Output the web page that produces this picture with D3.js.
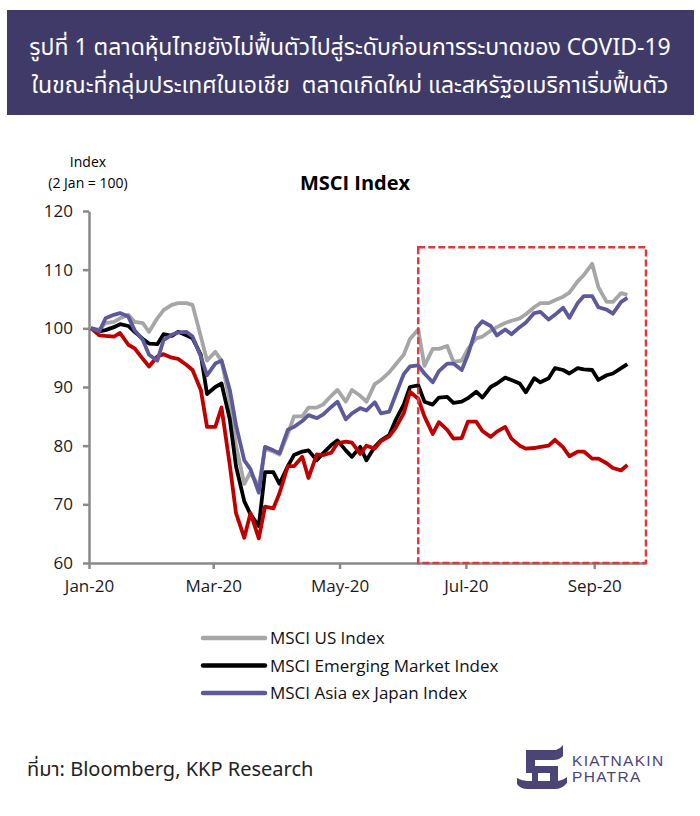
<!DOCTYPE html>
<html>
<head>
<meta charset="utf-8">
<script src="https://cdn.jsdelivr.net/npm/d3@7"></script>
<style>
  body { margin: 0; background: #fff; }
  .thai { font-family: "Noto Sans Thai", "Noto Sans Thai UI", "Loma", "Garuda", "Noto Sans", sans-serif; white-space: pre; }
  .chart-text { font-family: "Open Sans", "Liberation Sans", sans-serif; }
</style>
</head>
<body>
<div id="chart"></div>
<script>
// data (index, 2 Jan = 100)
var dates = [
  "2020-01-02","2020-01-06","2020-01-09","2020-01-13","2020-01-16","2020-01-20","2020-01-23","2020-01-27","2020-01-30",
  "2020-02-03","2020-02-06","2020-02-10","2020-02-13","2020-02-17","2020-02-20","2020-02-24","2020-02-27",
  "2020-03-02","2020-03-05","2020-03-09","2020-03-12","2020-03-16","2020-03-19","2020-03-23","2020-03-26","2020-03-30",
  "2020-04-02","2020-04-06","2020-04-09","2020-04-13","2020-04-16","2020-04-20","2020-04-23","2020-04-27","2020-04-30",
  "2020-05-04","2020-05-07","2020-05-11","2020-05-14","2020-05-18","2020-05-21","2020-05-25","2020-05-28",
  "2020-06-01","2020-06-04","2020-06-08","2020-06-11","2020-06-15","2020-06-18","2020-06-22","2020-06-25","2020-06-29",
  "2020-07-02","2020-07-06","2020-07-09","2020-07-13","2020-07-16","2020-07-20","2020-07-23","2020-07-27","2020-07-30",
  "2020-08-03","2020-08-06","2020-08-10","2020-08-13","2020-08-17","2020-08-20","2020-08-24","2020-08-27","2020-08-31",
  "2020-09-03","2020-09-07","2020-09-10","2020-09-14","2020-09-17"
];

var usIndex = [
  100, 99.8, 100.9, 101.1, 101.7, 102.3, 101.1, 100.9, 99.4,
  101.7, 103.1, 104.0, 104.3, 104.3, 104.0, 98.6, 94.5,
  96.0, 94.5, 87.5, 80.0, 73.5, 75.5, 73.0, 79.5, 79.0,
  78.5, 82.0, 85.0, 85.0, 86.5, 86.5, 87.0, 88.5, 89.5,
  87.5, 89.5, 88.5, 87.5, 90.5, 91.2, 92.5, 93.8,
  95.5, 98.2, 99.8, 93.6, 96.5, 96.5, 97.0, 94.3, 94.5,
  96.5, 98.3, 98.6, 99.6, 100.2, 100.9, 101.3, 101.7, 102.4,
  103.6, 104.3, 104.3, 104.8, 105.4, 106.1, 108.0, 109.1, 111.0,
  107.0, 104.5, 104.5, 106.0, 105.7
];

var emIndex = [
  100, 99.5, 99.7, 100.2, 100.7, 100.4, 99.4, 98.2, 97.4,
  97.3, 99.0, 98.7, 99.4, 98.8, 98.3, 95.5, 88.8,
  90.0, 90.6, 84.5, 76.5, 70.5, 68.3, 66.3, 75.5, 75.5,
  73.5, 76.5, 78.4, 79.0, 79.2, 77.5, 78.7, 80.1, 80.9,
  79.2, 78.1, 79.8, 77.5, 79.8, 80.9, 81.8, 84.3,
  87.0, 90.0, 90.3, 87.5, 87.0, 88.2, 88.3, 87.3, 87.5,
  88.1, 89.2, 88.2, 90.0, 90.6, 91.6, 91.2, 90.6, 89.1,
  91.5, 90.8, 91.5, 93.2, 92.9, 92.3, 93.2, 93.0, 92.9,
  91.2, 92.0, 92.3, 93.2, 93.9
];

var asiaIndex = [
  100, 99.5, 101.7, 102.3, 102.6, 102.0, 99.7, 98.0, 95.5,
  94.5, 98.0, 98.9, 99.3, 99.4, 98.6, 95.2, 92.0,
  94.0, 94.5, 89.5, 83.5, 77.5, 76.0, 72.0, 79.8, 79.2,
  78.7, 82.7, 83.2, 84.2, 85.2, 84.7, 85.3, 86.6, 87.5,
  84.5, 85.5, 86.4, 86.0, 87.4, 85.5, 85.8, 88.6,
  92.2, 93.5, 93.7, 92.3, 90.8, 92.7, 94.0, 94.0, 92.9,
  95.5, 100.0, 101.2, 100.4, 98.8, 99.8, 99.0, 100.2, 101.0,
  102.6, 102.8, 101.5, 102.3, 103.5, 101.8, 104.3, 105.5, 105.5,
  103.6, 103.2, 102.5, 104.5, 105.2
];

// Thai market, drawn in red (not in the legend)
var thaiIndex = [
  100, 98.8, 98.7, 98.6, 99.2, 97.2, 96.6, 94.8, 93.5,
  95.2, 95.6, 95.0, 94.8, 93.8, 92.9, 89.5, 83.2,
  83.2, 86.5, 76.7, 68.5, 64.3, 68.5, 64.2, 69.6, 69.3,
  71.9, 76.5, 76.5, 78.1, 74.5, 78.5, 78.4, 78.8, 80.4,
  80.7, 80.5, 78.6, 80.0, 79.5, 80.8, 81.6, 83.0,
  85.5, 89.2, 88.0, 85.0, 82.0, 84.0, 82.7, 81.2, 81.3,
  84.1, 84.1, 82.5, 81.5, 82.4, 83.2, 81.2, 80.0, 79.5,
  79.6, 79.8, 80.0, 81.0, 79.7, 78.2, 79.0, 79.0, 77.8,
  77.8, 77.0, 76.2, 75.8, 76.7
];

var xTickDates = ["2020-01-01", "2020-03-01", "2020-05-01", "2020-07-01", "2020-09-01"];
var yTicks = [60, 70, 80, 90, 100, 110, 120];
var legendNames = ["MSCI US Index", "MSCI Emerging Market Index", "MSCI Asia ex Japan Index"];

// highlighted period (dashed red box)
var boxStart = "2020-06-08";
var boxEnd = "2020-09-26";
var boxTop = 113.8;

var titleLines = [
  "รูปที่ 1 ตลาดหุ้นไทยยังไม่ฟื้นตัวไปสู่ระดับก่อนการระบาดของ COVID-19",
  "ในขณะที่กลุ่มประเทศในเอเชีย  ตลาดเกิดใหม่ และสหรัฐอเมริกาเริ่มฟื้นตัว"
];
var sourceText = "ที่มา: Bloomberg, KKP Research";

var parse = d3.timeParse("%Y-%m-%d");

var svg = d3.select("#chart").append("svg")
    .attr("width", 700)
    .attr("height", 816);

// title banner
svg.append("rect")
    .attr("x", 7).attr("y", 10)
    .attr("width", 687).attr("height", 105)
    .attr("fill", "#403a69");

svg.selectAll(".title")
    .data(titleLines)
    .enter().append("text")
    .attr("class", "thai")
    .attr("x", 350)
    .attr("y", function(d, i) { return 55 + i * 38; })
    .attr("text-anchor", "middle")
    .attr("fill", "#fff")
    .style("font-size", "23px")
    .text(function(d) { return d; });

// scales
var x = d3.scaleTime()
    .domain([parse("2020-01-01"), parse(boxEnd)])
    .range([89, 646]);

var y = d3.scaleLinear()
    .domain([60, 120])
    .range([563, 211]);

// axes
var xAxis = svg.append("g")
    .attr("transform", "translate(0," + y(60) + ")")
    .call(d3.axisBottom(x)
        .tickValues(xTickDates.map(parse))
        .tickFormat(d3.timeFormat("%b-%y"))
        .tickSize(6)
        .tickSizeOuter(0)
        .tickPadding(11));

var yAxis = svg.append("g")
    .attr("transform", "translate(" + x(parse("2020-01-01")) + ",0)")
    .call(d3.axisLeft(y)
        .tickValues(yTicks)
        .tickSize(6)
        .tickSizeOuter(0)
        .tickPadding(10));

[xAxis, yAxis].forEach(function(ax) {
    ax.select(".domain").attr("stroke", "#8a8a8a").attr("stroke-width", 2.5);
    ax.selectAll(".tick line").attr("stroke", "#8a8a8a").attr("stroke-width", 2.5);
    ax.selectAll(".tick text")
        .attr("class", "chart-text")
        .attr("fill", "#1a1a1a")
        .style("font-size", "17px");
});

// axis caption and chart title
svg.append("text")
    .attr("class", "chart-text")
    .attr("x", 88).attr("y", 167)
    .attr("text-anchor", "middle")
    .style("font-size", "14px")
    .text("Index");

svg.append("text")
    .attr("class", "chart-text")
    .attr("x", 88).attr("y", 188)
    .attr("text-anchor", "middle")
    .style("font-size", "14px")
    .text("(2 Jan = 100)");

svg.append("text")
    .attr("class", "chart-text")
    .attr("x", 355).attr("y", 190)
    .attr("text-anchor", "middle")
    .style("font-size", "20px")
    .style("font-weight", "bold")
    .text("MSCI Index");

// lines
var series = [
    { name: legendNames[0], values: usIndex, color: "#a6a6a6" },
    { name: legendNames[1], values: emIndex, color: "#000000" },
    { name: "Thai", values: thaiIndex, color: "#c00000" },
    { name: legendNames[2], values: asiaIndex, color: "#5c5a9c" }
];

var line = d3.line()
    .x(function(d) { return x(d.date); })
    .y(function(d) { return y(d.value); });

svg.selectAll(".series")
    .data(series)
    .enter().append("path")
    .attr("class", "series")
    .attr("d", function(s) {
        return line(dates.map(function(d, i) {
            return { date: parse(d), value: s.values[i] };
        }));
    })
    .attr("fill", "none")
    .attr("stroke", function(s) { return s.color; })
    .attr("stroke-width", 3.8)
    .attr("stroke-linejoin", "round");

// dashed box around the recovery period
svg.append("rect")
    .attr("x", x(parse(boxStart)))
    .attr("y", y(boxTop))
    .attr("width", x(parse(boxEnd)) - x(parse(boxStart)))
    .attr("height", y(60) - y(boxTop))
    .attr("fill", "none")
    .attr("stroke", "#e0393e")
    .attr("stroke-width", 2.5)
    .attr("stroke-dasharray", "7,3");

// legend
var legendColors = ["#a6a6a6", "#000000", "#5c5a9c"];
var legend = svg.selectAll(".legend")
    .data(legendNames)
    .enter().append("g")
    .attr("transform", function(d, i) { return "translate(203," + (638 + i * 27.5) + ")"; });

legend.append("line")
    .attr("x1", 0).attr("x2", 62)
    .attr("stroke", function(d, i) { return legendColors[i]; })
    .attr("stroke-width", 4.5)
    .attr("stroke-linecap", "round");

legend.append("text")
    .attr("class", "chart-text")
    .attr("x", 67).attr("y", 6)
    .style("font-size", "17px")
    .attr("fill", "#111")
    .text(function(d) { return d; });

// source
svg.append("text")
    .attr("class", "thai")
    .attr("x", 27).attr("y", 776)
    .attr("fill", "#222")
    .style("font-size", "20px")
    .text(sourceText);

// logo
var logo = svg.append("g").attr("fill", "#4b4577");
logo.append("path").attr("d", "M526,750 L556,750 Q560,749 563,745 L563,756 Q559,760 554,760 L535,760 L535,766 L558,766 L558,781 L550,781 L550,773 L538,773 L538,781 L532,781 L532,773 L526,773 Z");
logo.append("path").attr("d", "M517,778 Q522,781 527,781 L556,781 Q562,781 567,777 L567,783 Q562,789 555,789 L528,789 Q520,789 517,784 Z");

logo.append("text")
    .attr("x", 572).attr("y", 766)
    .style("font-family", "'Liberation Sans', sans-serif")
    .style("font-size", "15.5px")
    .style("letter-spacing", "1.3px")
    .text("KIATNAKIN");

logo.append("text")
    .attr("x", 572).attr("y", 782)
    .style("font-family", "'Liberation Sans', sans-serif")
    .style("font-size", "15.5px")
    .style("letter-spacing", "1.3px")
    .text("PHATRA");
</script>
</body>
</html>
